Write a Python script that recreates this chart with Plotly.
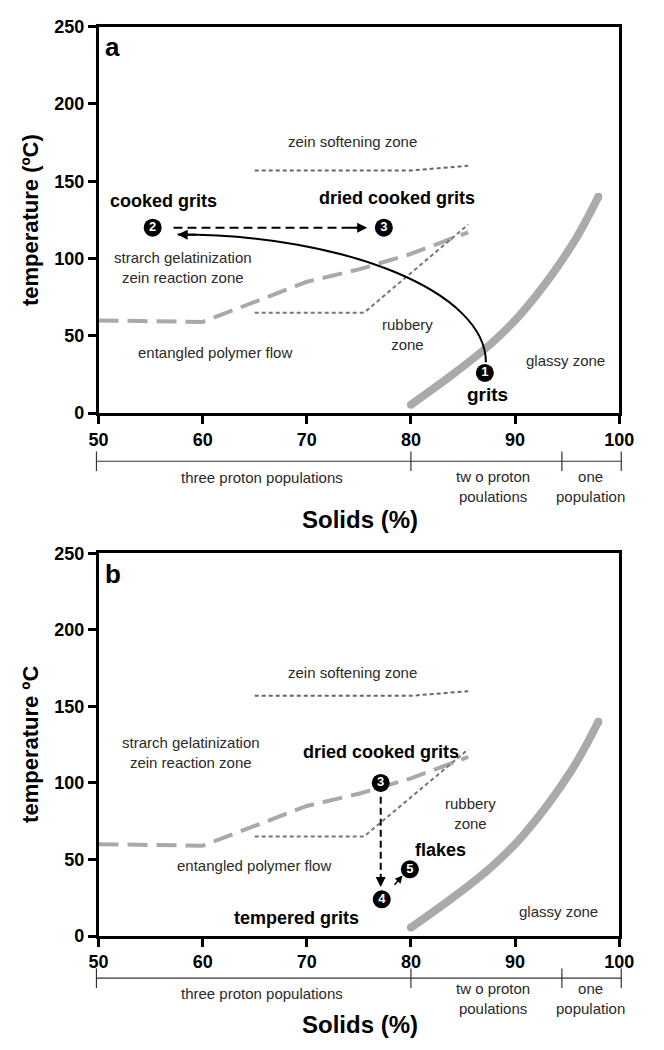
import plotly.graph_objects as go

FONT = "Liberation Sans, Arial, sans-serif"
X_RANGE = [50, 100]
Y_RANGE = [0, 250]
x_ticks = [50, 60, 70, 80, 90, 100]
y_ticks = [0, 50, 100, 150, 200, 250]

# state-diagram boundaries (same in both panels)
glass_x = [80, 84, 87.7, 90.8, 95.4, 98]
glass_y = [5.5, 25, 45, 66, 108, 140]
flow_x = [50, 60, 70, 75, 80, 85.5]
flow_y = [60, 59, 85, 93, 103, 117]
rubbery_x = [65, 75.5, 85.5]
rubbery_y = [65, 65, 122]
zein_x = [65, 80, 85.5]
zein_y = [157, 157, 160]

# proton population bracket
pop_edges = [50, 80, 94.5, 100]
pop_labels = ["three proton populations", "tw o proton<br>poulations", "one<br>population"]
pop_label_x = [65.7, 87.9, 97.2]

# panel a process points
a_pts_x = [87.1, 55.2, 77.4]
a_pts_y = [26, 120, 120]
a_pts_lab = ["1", "2", "3"]
a_dash_x = [57.2, 75.0]
a_dash_y = [120, 120]
# curved solid arrow grits -> cooked grits (cubic bezier: start, c1, c2, end)
a_curve_x = [87.2, 87.2, 73.9, 57.6]
a_curve_y = [33, 78, 115.5, 115.5]

# panel b process points
b_pts_x = [77.1, 77.2, 79.9]
b_pts_y = [100, 24, 43.6]
b_pts_lab = ["3", "4", "5"]
b_dash_x = [77.1, 77.1]
b_dash_y = [91, 36]

# domains (paper)
XD = [92 / 664, 633 / 664]
YA = [1 - 411 / 1050, 1 - 17 / 1050]
YB = [1 - 944 / 1050, 1 - 554 / 1050]

SMALL = 15
BOLD = 18

fig = go.Figure()

def add_boundaries(xa, ya):
    fig.add_trace(go.Scatter(x=flow_x, y=flow_y, mode="lines", xaxis=xa, yaxis=ya,
                             line=dict(color="#a9a9a9", width=4, dash="20px,9px")))
    fig.add_trace(go.Scatter(x=rubbery_x, y=rubbery_y, mode="lines", xaxis=xa, yaxis=ya,
                             line=dict(color="#777777", width=2, dash="4px,3px")))
    fig.add_trace(go.Scatter(x=zein_x, y=zein_y, mode="lines", xaxis=xa, yaxis=ya,
                             line=dict(color="#666666", width=2, dash="4px,3px")))
    fig.add_trace(go.Scatter(x=glass_x, y=glass_y, mode="lines", xaxis=xa, yaxis=ya,
                             line=dict(color="#aaaaaa", width=8, shape="spline")))
    # rounded line ends
    fig.add_trace(go.Scatter(x=[glass_x[0], glass_x[-1]], y=[glass_y[0], glass_y[-1]], mode="markers",
                             xaxis=xa, yaxis=ya, marker=dict(color="#aaaaaa", size=8)))

add_boundaries("x", "y")
add_boundaries("x2", "y2")

# panel a arrows
fig.add_trace(go.Scatter(x=a_dash_x, y=a_dash_y, mode="lines", xaxis="x", yaxis="y",
                         line=dict(color="black", width=2, dash="9px,5px")))
fig.add_shape(type="path", xref="x", yref="y",
              path=f"M {a_curve_x[0]},{a_curve_y[0]} C {a_curve_x[1]},{a_curve_y[1]} "
                   f"{a_curve_x[2]},{a_curve_y[2]} {a_curve_x[3]},{a_curve_y[3]}",
              line=dict(color="black", width=2))
# panel b arrows
fig.add_trace(go.Scatter(x=b_dash_x, y=b_dash_y, mode="lines", xaxis="x2", yaxis="y2",
                         line=dict(color="black", width=2, dash="7px,4px")))

def arrowhead(x, y, ax, ay, xr, yr, w=2):
    fig.add_annotation(x=x, y=y, ax=ax, ay=ay, xref=xr, yref=yr, axref=xr, ayref=yr,
                       text="", showarrow=True, arrowhead=2, arrowsize=1, arrowwidth=w,
                       arrowcolor="black")

arrowhead(75.8, 120, 74.0, 120, "x", "y")
arrowhead(57.6, 115.5, 59.5, 115.4, "x", "y")
arrowhead(77.1, 32, 77.1, 38, "x2", "y2")
arrowhead(79.2, 39.5, 78.3, 32.5, "x2", "y2", 1.5)

# numbered markers
fig.add_trace(go.Scatter(x=a_pts_x, y=a_pts_y, text=a_pts_lab, mode="markers+text", xaxis="x", yaxis="y",
                         marker=dict(color="black", size=18),
                         textfont=dict(color="white", size=13, family=FONT, weight="bold"),
                         textposition="middle center"))
fig.add_trace(go.Scatter(x=b_pts_x, y=b_pts_y, text=b_pts_lab, mode="markers+text", xaxis="x2", yaxis="y2",
                         marker=dict(color="black", size=18),
                         textfont=dict(color="white", size=13, family=FONT, weight="bold"),
                         textposition="middle center"))

def txt(x, y, s, xr, yr, size=SMALL, bold=False, color="#2a2a2a"):
    fig.add_annotation(x=x, y=y, xref=xr, yref=yr, text=s, showarrow=False,
                       font=dict(family=FONT, size=size, color=color, weight="bold" if bold else "normal"),
                       xanchor="center", yanchor="middle")

# panel a texts
txt(74.4, 176, "zein softening zone", "x", "y")
txt(56.2, 137, "cooked grits", "x", "y", BOLD, True, "black")
txt(78.7, 139, "dried cooked grits", "x", "y", BOLD, True, "black")
txt(58.1, 94, "strarch gelatinization<br>zein reaction zone", "x", "y")
txt(61.2, 39, "entangled polymer flow", "x", "y")
txt(79.7, 51, "rubbery<br>zone", "x", "y")
txt(94.8, 34, "glassy zone", "x", "y")
txt(87.4, 12, "grits", "x", "y", 19, True, "black")
fig.add_annotation(x=50.4, y=248, xref="x", yref="y", text="a", showarrow=False,
                   xanchor="left", yanchor="top", font=dict(family=FONT, size=26, color="black", weight="bold"))

# panel b texts
txt(74.4, 172, "zein softening zone", "x2", "y2")
txt(77.1, 120, "dried cooked grits", "x2", "y2", BOLD, True, "black")
txt(58.9, 120, "strarch gelatinization<br>zein reaction zone", "x2", "y2")
txt(64.9, 46, "entangled polymer flow", "x2", "y2")
txt(85.7, 80, "rubbery<br>zone", "x2", "y2")
txt(94.2, 16, "glassy zone", "x2", "y2")
txt(82.8, 56, "flakes", "x2", "y2", BOLD, True, "black")
txt(69.0, 12, "tempered grits", "x2", "y2", BOLD, True, "black")
fig.add_annotation(x=50.4, y=248, xref="x2", yref="y2", text="b", showarrow=False,
                   xanchor="left", yanchor="top", font=dict(family=FONT, size=26, color="black", weight="bold"))

# proton population brackets + labels + axis titles
def bracket(xr, ypx, lab_px, lab2_px, sol_px, ytitle, ymid_px):
    yb = 1 - ypx / 1050
    dom = xr + " domain"
    fig.add_shape(type="line", xref=dom, yref="paper", x0=(pop_edges[0] - 50) / 50 - 0.004,
                  x1=(pop_edges[-1] - 50) / 50 + 0.004, y0=yb, y1=yb, line=dict(color="#333333", width=1.2))
    for e in pop_edges:
        xd = (e - 50) / 50
        if e == 50:
            xd -= 0.004
        if e == 100:
            xd += 0.004
        fig.add_shape(type="line", xref=dom, yref="paper", x0=xd, x1=xd,
                      y0=yb - 10 / 1050, y1=yb + 10 / 1050, line=dict(color="#333333", width=1.2))
    for i, (lx, lab) in enumerate(zip(pop_label_x, pop_labels)):
        ly = lab_px if i == 0 else lab2_px
        fig.add_annotation(x=lx, y=1 - ly / 1050, xref=xr, yref="paper", text=lab, showarrow=False,
                           xanchor="center", yanchor="middle",
                           font=dict(family=FONT, size=SMALL, color="#2a2a2a"))
    fig.add_annotation(x=75.1, y=1 - sol_px / 1050, xref=xr, yref="paper", text="Solids (%)",
                       showarrow=False, xanchor="center", yanchor="middle",
                       font=dict(family=FONT, size=24, color="black", weight="bold"))
    fig.add_annotation(x=22 / 664, y=1 - ymid_px / 1050, xref="paper", yref="paper", text=ytitle,
                       showarrow=False, textangle=-90, xanchor="center", yanchor="middle",
                       font=dict(family=FONT, size=22, color="black", weight="bold"))

bracket("x", 460, 477, 486, 519, "temperature (ºC)", 214)
bracket("x2", 987, 1003, 1008, 1034, "temperature ºC", 749)

axis_common = dict(showline=True, linecolor="black", linewidth=2.5, mirror=True, showgrid=False,
                   zeroline=False, ticks="outside", ticklen=8, tickwidth=2.5, tickcolor="black",
                   tickfont=dict(family=FONT, size=18, color="black", weight="bold"))

fig.update_layout(
    width=664, height=1050, margin=dict(l=0, r=0, t=0, b=0),
    paper_bgcolor="white", plot_bgcolor="white", showlegend=False,
    xaxis=dict(domain=XD, range=X_RANGE, tickvals=x_ticks, anchor="y", **axis_common),
    yaxis=dict(domain=YA, range=Y_RANGE, tickvals=y_ticks, anchor="x", **axis_common),
    xaxis2=dict(domain=XD, range=X_RANGE, tickvals=x_ticks, anchor="y2", **axis_common),
    yaxis2=dict(domain=YB, range=Y_RANGE, tickvals=y_ticks, anchor="x2", **axis_common),
)

fig.write_html("out.html")
